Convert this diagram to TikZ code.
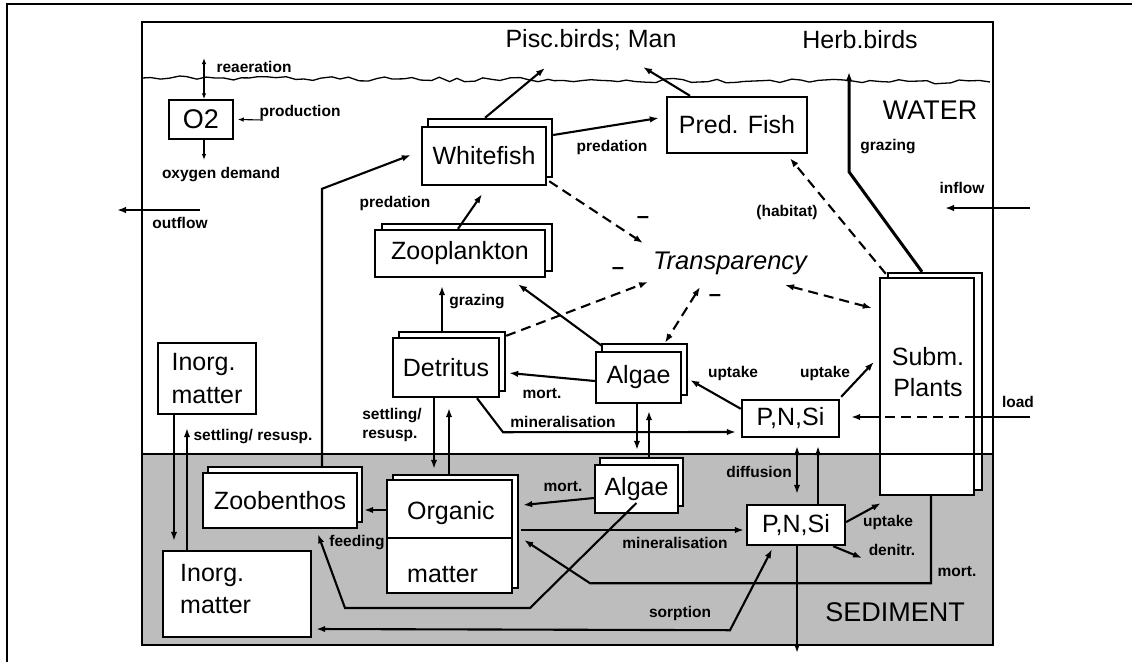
\documentclass[tikz,border=0pt]{standalone}
\usepackage{fontspec}
\setmainfont{Liberation Sans}
\usetikzlibrary{arrows.meta,shadows,decorations.pathmorphing}
\begin{document}
\begin{tikzpicture}[x=1pt,y=-1pt,
  >={Latex[length=9pt,width=6.5pt]},
  bigtxt/.style={font=\fontsize{25}{31}\selectfont, inner sep=0pt},
  lbl/.style={font=\fontsize{15.5}{19}\selectfont\bfseries, inner sep=0pt},
  box/.style={draw, line width=2.4pt, fill=white, inner sep=0pt, font=\fontsize{25}{31}\selectfont},
  stackbox/.style 2 args={box, copy shadow={shadow xshift=#1, shadow yshift=#2, draw=black, fill=white, line width=1.9pt}},
  arr/.style={line width=2.1pt, ->},
  dbl/.style={line width=2.1pt, <->},
  tarr/.style={line width=1.1pt, -{Latex[length=6pt,width=4.5pt]}},
  tdbl/.style={line width=1.1pt, {Latex[length=6pt,width=4.5pt]}-{Latex[length=6pt,width=4.5pt]}},
  dsh/.style={line width=2.1pt, dash pattern=on 10pt off 6pt},
  minus/.style={font=\fontsize{22}{22}\selectfont\bfseries, inner sep=0pt}
]
\useasboundingbox (0,0) rectangle (1132,662);
\fill[white] (0,0) rectangle (1132,662);
% outer frame
\draw[line width=1.3pt] (7,662) -- (7,4) -- (1132,4);
% sediment zone
\fill[black!26] (142,454) rectangle (993,645);
\draw[line width=1.3pt] (142,22) rectangle (993,645);
% water surface
\pgfmathsetseed{7}
\draw[line width=1.3pt, decorate, decoration={random steps, segment length=9pt, amplitude=2.2pt}] (142,78) -- (990,82);

% texts
\node[bigtxt] (pisc) at (591,40) {Pisc.birds; Man};
\node[bigtxt] (herb) at (860,40) {Herb.birds};
\node[bigtxt, font=\fontsize{27}{31}\selectfont] (water) at (930,110) {WATER};
\node[bigtxt, font=\fontsize{27}{31}\selectfont] (sedim) at (895,612) {SEDIMENT};
\node[bigtxt, font=\fontsize{25.5}{31}\selectfont\itshape] (transp) at (730,263) {Transparency};

% boxes
\node[box, line width=1.5pt, minimum width=64pt, minimum height=39pt, font=\fontsize{27}{31}\selectfont] (o2) at (201,119.5) {O2};
\node[stackbox={6pt}{8pt}, minimum width=124pt, minimum height=58pt] (wf) at (484,156) {Whitefish};
\node[box, minimum width=140pt, minimum height=56pt] (pf) at (737,125) {Pred. Fish};
\node[stackbox={7pt}{6pt}, minimum width=170pt, minimum height=47pt] (zp) at (460,253.5) {Zooplankton};
\node[stackbox={6pt}{6pt}, minimum width=106pt, minimum height=59pt] (det) at (446,367.5) {Detritus};
\node[stackbox={6pt}{8pt}, minimum width=85pt, minimum height=51pt] (algw) at (638.5,377.5) {Algae};
\node[box, minimum width=97pt, minimum height=37pt] (pnw) at (790.5,418.5) {P,N,Si};
\node[stackbox={8pt}{5pt}, minimum width=94pt, minimum height=217pt] (subm) at (927,386.5) {};
\node[bigtxt, align=center] (submtxt) at (928,372) {Subm.\\Plants};
\node[box, align=left, minimum width=98pt, minimum height=71pt, font=\fontsize{25}{33}\selectfont] (inw) at (207,378.5) {Inorg.\\matter};
\node[stackbox={5pt}{6pt}, minimum width=154pt, minimum height=55pt] (zb) at (280,500.5) {Zoobenthos};
\node[stackbox={6pt}{5pt}, minimum width=125pt, minimum height=113pt] (org) at (449.5,536.5) {};
\draw[line width=1.5pt] ([yshift=-1.5pt]org.west) -- ([yshift=-1.5pt]org.east);
\node[bigtxt, anchor=west] (orgA) at (407,513) {Organic};
\node[bigtxt, anchor=west] (orgB) at (407,575) {matter};
\node[stackbox={5pt}{7pt}, minimum width=83pt, minimum height=48pt] (algs) at (636.5,489) {Algae};
\node[box, minimum width=98pt, minimum height=40pt] (pns) at (796,525) {P,N,Si};
\node[box, minimum width=148pt, minimum height=86pt] (ins) at (237,594) {};
\node[bigtxt, anchor=west, align=left, font=\fontsize{25}{32}\selectfont] (instxt) at (180,589) {Inorg.\\matter};

% sediment boundary
\draw[line width=2.8pt] (142,454) -- (993,454);

% labels
\node[lbl] (lrea) at (254,67) {reaeration};
\node[lbl] (lprod) at (300,112) {production};
\node[lbl] (loxd) at (221,175) {oxygen demand};
\node[lbl] (lout) at (180,223) {outflow};
\node[lbl] (lin) at (962,188) {inflow};
\node[lbl] (lpred1) at (612,147) {predation};
\node[lbl] (lpred2) at (395,203) {predation};
\node[lbl] (lhab) at (787,212) {(habitat)};
\node[lbl] (lgraz1) at (888,147) {grazing};
\node[lbl] (lgraz2) at (477,302) {grazing};
\node[lbl] (lmort1) at (542,394) {mort.};
\node[lbl] (lupt1) at (733,373) {uptake};
\node[lbl] (lupt2) at (825,373) {uptake};
\node[lbl] (lload) at (1018,402) {load};
\node[lbl, align=left] (lsett1) at (392,424.5) {settling/\\resusp.};
\node[lbl] (lmin1) at (563,422) {mineralisation};
\node[lbl] (lsett2) at (253,437) {settling/ resusp.};
\node[lbl] (lmort2) at (563,487) {mort.};
\node[lbl] (ldiff) at (759,472) {diffusion};
\node[lbl] (lmin2) at (675,543) {mineralisation};
\node[lbl] (lfeed) at (357,543) {feeding};
\node[lbl] (lupt3) at (888,522) {uptake};
\node[lbl] (lden) at (892,550) {denitr.};
\node[lbl] (lmort3) at (957,572) {mort.};
\node[lbl] (lsorp) at (680,613) {sorption};
\node[minus] (m1) at (643,220) {–};
\node[minus] (m2) at (618,271) {–};
\node[minus] (m3) at (715,298) {–};

% O2 arrows
\coordinate (rea) at (204,58);
\draw[tdbl] (rea) -- ([xshift=3pt]o2.north);
\coordinate (prod) at (263,120);
\draw[tarr] (prod) -- ([xshift=4pt]o2.east);
\coordinate (oxd) at (204,160);
\draw[tarr] ([xshift=3pt]o2.south) -- (oxd);
% in/outflow
\coordinate (outA) at (200,210); \coordinate (outB) at (117,210);
\draw[arr] (outA) -- (outB);
\coordinate (inA) at (1030,208); \coordinate (inB) at (945,208);
\draw[arr] (inA) -- (inB);
% fish
\coordinate (piscA) at (545,68);
\draw[arr] ([xshift=1pt,yshift=8pt]wf.north) -- (piscA);
\coordinate (piscB) at (643,67);
\draw[arr] ([xshift=-47pt]pf.north) -- (piscB);
\draw[arr] ([xshift=6pt,yshift=21pt]wf.east) -- ([xshift=-7pt,yshift=7pt]pf.west);
\draw[arr] ([xshift=-2pt]zp.north) -- ([xshift=-2pt,yshift=-8pt]wf.south);
\draw[arr] ([xshift=42pt,yshift=6pt]zb.north) -- ++(0,-277) -- ([xshift=-10pt,yshift=1pt]wf.west);
% transparency
\draw[dsh,->] ([xshift=2pt,yshift=5pt]wf.south east) -- ([xshift=-87pt,yshift=20pt]transp.center);
\draw[dsh,->] ([xshift=6pt,yshift=1pt]det.north east) -- ([xshift=-82pt,yshift=-19pt]transp.center);
\draw[dsh,<->] ([xshift=-30pt,yshift=-24pt]transp.center) -- ([xshift=26.5pt,yshift=8pt]algw.north);
\draw[dsh,<->] ([xshift=55pt,yshift=-22pt]transp.center) -- ([xshift=-7pt,yshift=78.5pt]subm.west);
\draw[dsh,->] ([xshift=7pt,yshift=3pt]subm.north west) -- ([xshift=53pt,yshift=-4pt]pf.south);
% herb grazing
\coordinate (herbA) at (849,72);
\draw[line width=3pt,->] ([xshift=-5pt,yshift=5pt]subm.north) -- ++(-73,-100) -- (herbA);
% water column
\draw[arr] ([xshift=7pt,yshift=5pt]algw.north west) -- ([xshift=58pt,yshift=-6pt]zp.south);
\draw[arr] ([xshift=-4pt,yshift=6pt]det.north) -- ([xshift=-18pt,yshift=-8pt]zp.south);
\draw[arr] ([yshift=-3.5pt]algw.west) -- ([xshift=9pt,yshift=-5.5pt]det.east);
\draw[arr] ([xshift=31pt]det.south) -- ++(26,34) -- ([xshift=-5pt,yshift=-13.5pt]pnw.west);
\draw[arr] ([yshift=-10pt]pnw.north west) -- ([xshift=8pt,yshift=-2.5pt]algw.east);
\draw[arr] ([xshift=1pt,yshift=2pt]pnw.north east) -- ([xshift=-5pt,yshift=24.5pt]subm.west);
% load
\coordinate (loadA) at (1030,417);
\draw[line width=2.1pt] (loadA) -- (subm.east |- loadA);
\draw[dsh] (subm.east |- loadA) -- (subm.west |- loadA);
\draw[arr] (subm.west |- loadA) -- ([xshift=11pt,yshift=1.5pt]pnw.east);
% exchange water/sediment
\draw[arr] ([xshift=-12pt]det.south) -- ([xshift=-15.5pt,yshift=10pt]org.north);
\draw[arr] ([xshift=-0.5pt,yshift=5pt]org.north) -- ([xshift=3pt,yshift=-10pt]det.south);
\draw[arr] ([xshift=-1.5pt]algw.south) -- ([xshift=0.5pt,yshift=14pt]algs.north);
\draw[arr] ([xshift=12.5pt,yshift=7pt]algs.north) -- ([xshift=10.5pt,yshift=-7pt]algw.south);
\draw[dbl] ([xshift=6.5pt,yshift=-8pt]pnw.south) -- ([xshift=1pt,yshift=10pt]pns.north);
\draw[arr] ([xshift=22pt]pns.north) -- ([xshift=27.5pt,yshift=-8pt]pnw.south);
\draw[arr] ([xshift=-33pt]inw.south) -- ([xshift=-63pt,yshift=9pt]ins.north);
\draw[arr] ([xshift=-50pt]ins.north) -- ([xshift=-20pt,yshift=-13pt]inw.south);
% sediment
\draw[arr] ([yshift=-9pt]algs.west) -- ([xshift=10pt,yshift=31.5pt]org.east);
\draw[arr] ([yshift=26.5pt]org.west) -- ([xshift=6pt,yshift=-9.5pt]zb.east);
\draw[arr] ([xshift=8pt,yshift=6.5pt]org.east) -- ([xshift=-2pt,yshift=-5pt]pns.west);
\draw[arr] ([yshift=-14pt]algs.center) -- ++(-106.5,105) -- ++(-185,0) -- ([xshift=38pt,yshift=-5pt]zb.south);
\draw[dbl] ([xshift=-24pt,yshift=-3pt]pns.south) -- ++(-42,81) -- ([xshift=4pt,yshift=-35pt]ins.east);
\draw[arr] ([xshift=4pt]subm.south) -- ++(0,87) -- ++(-341,0) -- ([xshift=11pt,yshift=-3.5pt]org.east);
\draw[arr] ([yshift=3pt]pns.east) -- ([xshift=2pt,yshift=-7pt]subm.south west);
\coordinate (denA) at (862,558);
\draw[arr] ([xshift=-13pt]pns.south east) -- (denA);
\coordinate (dnA) at (797,653);
\draw[arr] ([xshift=1pt]pns.south) -- (dnA);
\end{tikzpicture}
\end{document}
